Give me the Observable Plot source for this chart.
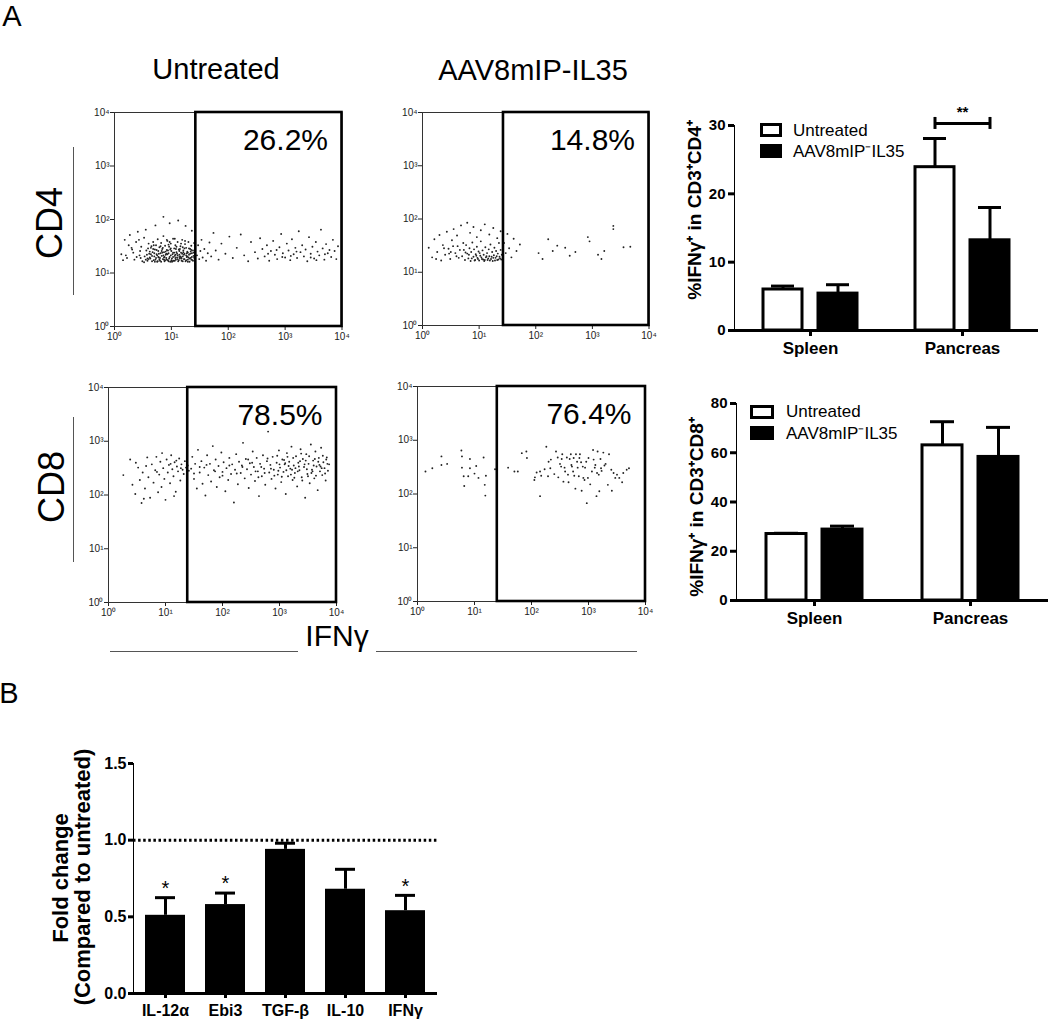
<!DOCTYPE html>
<html><head><meta charset="utf-8">
<script src="https://cdn.jsdelivr.net/npm/d3@7"></script>
<script src="https://cdn.jsdelivr.net/npm/@observablehq/plot@0.6"></script>
<style>
body{margin:0;background:#fff;font-family:"Liberation Sans",Arial,sans-serif;}
#root{position:relative;width:1050px;height:1024px;overflow:hidden;background:#fff;}
.thick g[aria-label*="axis"]{stroke-width:3px;}
.thick .tick line,.thick .domain{stroke-width:3px;}
.grouped g[aria-label^="fx-axis"] text{font-size:17px;}
.grouped g[aria-label^="y-axis"] text{font-size:15px;}
</style></head>
<body><div id="root"></div>
<script>
// ---------------- DATA ----------------
const decadeTicks = [0, 1, 2, 3, 4];
const decadeLabels = ["10⁰", "10¹", "10²", "10³", "10⁴"];
const columnTitles = ["Untreated", "AAV8mIP-IL35"];
const rowLabels = ["CD4", "CD8"];
const xMarker = "IFNγ";
const gatePercents = ["26.2%", "14.8%", "78.5%", "76.4%"];
const gateThresholds = [1.43, 1.43, 1.39, 1.40];

// events as "log10(IFNγ) log10(CD)" pairs
const cd4UntreatedEvents = `0.12 1.35,0.18 1.62,0.22 1.28,0.27 1.71,0.31 1.44,0.35 1.25,0.38 1.58,0.41 1.77,0.44 1.33,0.47 1.49,0.49 1.22,0.52 1.66,0.15 1.24,0.25 1.52,0.33 1.38,0.43 1.62,0.55 1.81,0.58 1.27,0.86 2.05,0.97 1.93,1.12 1.98,1.25 1.88,0.72 1.89,1.36 1.79,
0.53 1.31,0.56 1.42,0.58 1.23,0.6 1.55,0.61 1.36,0.63 1.27,0.64 1.47,0.66 1.22,0.67 1.39,0.68 1.58,0.7 1.31,0.71 1.44,0.72 1.25,0.73 1.52,0.74 1.35,0.75 1.21,0.76 1.63,0.77 1.41,0.78 1.29,0.79 1.48,0.8 1.23,0.81 1.37,0.82 1.56,0.83 1.32,0.84 1.45,0.85 1.26,0.86 1.69,0.87 1.39,0.88 1.22,0.89 1.51,0.9 1.34,0.91 1.28,0.92 1.43,0.93 1.6,0.94 1.24,0.95 1.37,0.96 1.49,0.97 1.3,0.98 1.21,0.99 1.55,1.0 1.41,1.01 1.27,1.02 1.35,1.03 1.64,1.04 1.23,1.05 1.46,1.06 1.32,1.07 1.52,1.08 1.25,1.09 1.39,1.1 1.29,1.11 1.58,1.12 1.22,1.13 1.44,1.14 1.34,1.15 1.27,1.16 1.5,1.17 1.38,1.18 1.23,1.19 1.62,1.2 1.31,1.21 1.42,1.22 1.26,1.23 1.36,1.24 1.54,1.25 1.22,1.26 1.47,1.27 1.3,1.28 1.4,1.29 1.25,1.3 1.58,1.31 1.34,1.32 1.21,1.33 1.45,1.34 1.28,1.35 1.51,1.36 1.37,1.37 1.24,1.38 1.42,1.39 1.32,1.4 1.56,1.41 1.27,
0.57 1.34,0.62 1.29,0.65 1.5,0.69 1.24,0.74 1.43,0.78 1.36,0.82 1.21,0.85 1.47,0.88 1.3,0.92 1.25,0.95 1.53,0.99 1.33,1.02 1.22,1.05 1.38,1.08 1.45,1.11 1.26,1.14 1.41,1.17 1.29,1.2 1.22,1.23 1.46,1.26 1.33,1.29 1.38,1.32 1.27,1.35 1.43,1.38 1.23,0.6 1.26,0.7 1.37,0.8 1.28,0.9 1.4,1.0 1.24,1.1 1.36,1.2 1.48,1.3 1.29,0.66 1.32,0.76 1.22,0.86 1.33,0.96 1.27,1.06 1.23,1.16 1.31,1.26 1.24,1.36 1.3,0.68 1.45,0.84 1.38,0.93 1.35,1.03 1.3,1.13 1.24,1.22 1.34,1.33 1.36,0.73 1.28,0.87 1.25,0.98 1.44,1.07 1.34,1.18 1.27,1.28 1.31,0.55 1.25,0.45 1.41,0.39 1.3,0.3 1.47,0.2 1.33,
0.62 1.4,0.71 1.21,0.75 1.33,0.79 1.25,0.83 1.41,0.87 1.29,0.91 1.36,0.95 1.22,0.99 1.46,1.03 1.38,1.07 1.28,1.11 1.33,1.15 1.45,1.19 1.36,1.23 1.26,1.27 1.37,1.31 1.46,1.35 1.25,1.39 1.38,0.64 1.35,0.69 1.52,0.77 1.3,0.81 1.5,0.89 1.24,0.94 1.42,1.01 1.21,1.09 1.49,1.14 1.3,1.21 1.39,1.29 1.21,1.34 1.4,1.4 1.29,0.59 1.46,0.97 1.58,1.17 1.55,1.06 1.64,0.92 1.62,1.24 1.6,0.52 1.2,0.46 1.28,
1.45 1.33,1.47 1.52,1.49 1.26,1.51 1.41,1.53 1.62,1.55 1.29,1.58 1.45,1.61 1.23,1.64 1.37,1.67 1.57,1.7 1.31,1.74 1.75,1.78 1.42,1.83 1.25,1.88 1.55,1.95 1.36,2.02 1.68,2.08 1.28,2.15 1.47,2.22 1.72,2.28 1.33,2.35 1.22,2.4 1.58,2.47 1.39,2.52 1.27,2.56 1.65,2.6 1.45,2.64 1.31,2.68 1.52,2.72 1.23,2.75 1.41,2.79 1.6,2.82 1.34,2.86 1.26,2.9 1.48,2.93 1.73,2.96 1.37,3.0 1.29,3.03 1.55,3.06 1.42,3.09 1.24,3.12 1.63,3.15 1.35,3.18 1.47,3.21 1.28,3.24 1.78,3.27 1.39,3.3 1.52,3.33 1.31,3.36 1.44,3.39 1.22,3.42 1.67,3.45 1.36,3.48 1.49,3.51 1.27,3.54 1.58,3.57 1.4,3.6 1.33,3.63 1.81,3.66 1.46,3.69 1.25,3.72 1.54,3.75 1.37,3.78 1.43,3.81 1.3,3.84 1.62,3.87 1.41,3.9 1.26,3.93 1.5,2.7 1.36,2.95 1.3,3.2 1.4,3.45 1.29,3.7 1.35,3.1 1.32,3.55 1.24,2.85 1.43`;

const cd4TreatedEvents = `0.11 1.46,0.17 1.28,0.21 1.62,0.26 1.38,0.3 1.7,0.33 1.22,0.36 1.51,0.4 1.33,0.43 1.76,0.46 1.44,0.49 1.25,0.52 1.6,0.55 1.81,0.58 1.36,0.61 1.69,0.64 1.27,0.68 1.88,0.72 1.55,0.79 1.93,0.84 1.74,0.9 1.85,0.96 1.66,1.03 1.79,1.1 1.9,1.18 1.71,1.25 1.83,1.32 1.64,1.38 1.77,0.24 1.25,0.38 1.45,0.5 1.38,0.62 1.49,
0.7 1.3,0.73 1.42,0.75 1.23,0.77 1.51,0.79 1.35,0.81 1.26,0.83 1.45,0.85 1.21,0.86 1.38,0.88 1.56,0.9 1.29,0.91 1.43,0.93 1.23,0.94 1.34,0.96 1.48,0.97 1.27,0.99 1.39,1.0 1.22,1.02 1.31,1.03 1.58,1.05 1.25,1.06 1.41,1.08 1.33,1.09 1.21,1.11 1.47,1.12 1.28,1.14 1.36,1.15 1.23,1.17 1.43,1.18 1.3,1.2 1.52,1.21 1.25,1.23 1.38,1.24 1.21,1.26 1.32,1.27 1.46,1.29 1.27,1.3 1.4,1.32 1.23,1.33 1.35,1.35 1.55,1.36 1.29,1.38 1.42,1.39 1.24,1.4 1.33,0.87 1.26,0.95 1.31,1.01 1.36,1.07 1.24,1.13 1.3,1.19 1.22,1.25 1.27,1.31 1.3,1.37 1.26,0.92 1.22,0.98 1.25,1.04 1.28,1.1 1.23,1.16 1.26,1.22 1.29,1.28 1.22,1.34 1.24,0.82 1.33,0.76 1.37,0.66 1.42,0.6 1.3,0.54 1.49,0.47 1.35,
1.44 1.55,1.47 1.36,1.5 1.72,1.53 1.45,1.57 1.28,1.61 1.63,1.66 1.4,1.72 1.52,2.05 1.36,2.12 1.25,2.22 1.62,2.3 1.4,2.38 1.5,2.52 1.46,2.6 1.31,2.7 1.38,2.92 1.66,2.95 1.58,3.1 1.33,3.16 1.25,3.21 1.4,3.37 1.87,3.37 1.81,3.55 1.47,3.67 1.48`;

const cd8UntreatedEvents = `0.26 2.37,0.38 2.66,0.42 2.19,0.47 2.02,0.52 2.51,0.55 2.28,0.58 1.85,0.6 2.42,0.64 2.12,0.68 2.7,0.7 2.33,0.73 1.95,0.76 2.57,0.79 2.23,0.82 2.46,0.84 2.71,0.87 2.05,0.89 2.38,0.91 2.62,0.93 2.15,0.96 2.5,0.98 2.3,1.0 1.91,1.02 2.66,1.04 2.42,1.06 2.56,1.08 2.22,1.1 2.74,1.12 2.48,1.14 2.35,1.16 2.61,1.18 2.06,1.2 2.53,1.22 2.44,1.24 2.68,1.26 2.27,1.28 2.57,1.3 2.47,1.32 2.39,1.34 2.63,1.36 2.51,1.38 2.98,1.39 2.55,1.41 2.45,0.48 2.6,0.66 2.54,0.94 2.78,1.09 2.58,1.19 2.64,1.27 2.5,0.85 2.43,0.62 1.93,1.15 1.98,
1.45 2.49,1.47 2.71,1.5 2.3,1.52 2.58,1.55 2.12,1.57 2.84,1.6 2.42,1.63 2.63,1.65 2.21,1.68 2.51,1.7 1.99,1.73 2.74,1.75 2.37,1.78 2.58,1.8 2.25,1.83 2.91,1.85 2.46,1.88 2.66,1.9 2.15,1.93 2.54,1.95 2.33,1.98 2.79,2.0 2.43,2.02 2.61,2.05 2.07,2.07 2.5,2.1 2.28,2.12 2.69,2.15 2.39,2.17 2.57,2.2 1.86,2.22 2.47,2.24 2.76,2.27 2.2,2.29 2.62,2.32 2.41,2.34 2.55,2.36 2.97,2.39 2.31,2.41 2.67,2.43 2.48,2.46 2.13,2.48 2.59,2.5 2.38,2.53 2.81,2.55 2.52,2.57 2.26,2.6 2.69,2.62 2.44,2.64 1.98,2.66 2.58,2.69 2.35,2.71 2.74,2.73 2.49,2.75 2.19,2.78 2.63,2.8 3.18,2.82 2.42,2.84 2.56,2.86 2.3,2.88 2.71,2.9 2.47,2.93 2.12,2.95 2.6,2.97 2.38,2.99 2.83,3.01 2.51,3.03 2.24,3.05 2.66,3.07 2.43,3.09 2.57,3.11 2.02,3.13 2.78,3.15 2.35,3.17 2.62,3.19 2.49,3.21 2.9,3.23 2.28,3.25 2.55,3.27 2.41,3.29 2.72,3.31 2.16,3.33 2.6,3.35 2.46,3.37 2.85,3.39 2.33,3.41 2.67,3.43 2.52,3.45 1.95,3.47 2.76,3.49 2.39,3.51 2.58,3.53 2.22,3.55 2.94,3.57 2.47,3.59 2.64,3.61 2.31,3.63 2.81,3.65 2.53,3.67 2.09,3.69 2.69,3.71 2.44,3.73 2.88,3.75 2.37,3.77 2.61,3.79 2.5,3.81 2.27,3.83 2.7,3.85 2.45,3.87 2.57,
2.68 2.52,2.74 2.41,2.79 2.68,2.85 2.49,2.91 2.36,2.96 2.73,3.0 2.57,3.04 2.34,3.08 2.65,3.12 2.46,3.16 2.54,3.2 2.38,3.24 2.69,3.28 2.5,3.32 2.44,3.36 2.63,3.4 2.27,3.44 2.57,3.48 2.48,3.52 2.72,3.56 2.41,3.6 2.55,3.64 2.36,3.68 2.62,3.72 2.53,3.76 2.73,3.8 2.4,3.84 2.58,3.14 2.71,3.26 2.32,3.38 2.77,3.5 2.35,3.62 2.67,3.74 2.5,2.98 2.45,3.1 2.59,3.22 2.47,3.34 2.53,3.46 2.64,3.58 2.44,3.7 2.56,3.82 2.66,2.45 2.66,2.58 2.44,2.35 2.52,2.25 2.4,2.12 2.55,2.0 2.36,1.87 2.44,1.72 2.56,1.6 2.52,1.5 2.4,2.52 2.6,2.63 2.33`;

const cd8TreatedEvents = `0.14 2.42,0.26 2.48,0.42 2.7,0.42 2.54,0.52 2.56,0.77 2.81,0.78 2.7,0.78 2.49,0.81 2.33,0.89 2.33,0.92 2.65,0.92 2.48,1.0 2.38,1.03 2.52,1.07 2.3,1.16 2.68,1.18 2.17,1.2 2.34,1.19 1.97,0.82 2.15,1.36 2.46,
1.59 2.49,1.7 2.42,1.76 2.42,1.83 2.76,1.91 2.79,1.92 2.67,2.05 2.26,2.06 2.31,2.09 2.4,2.15 2.42,2.15 1.96,2.17 2.34,2.23 2.46,2.26 2.88,2.29 2.33,2.3 2.6,2.33 2.48,2.34 2.64,2.4 2.37,2.43 2.79,2.46 2.68,2.47 2.31,2.5 2.56,2.52 2.51,2.53 2.65,2.54 2.74,2.56 2.23,2.58 2.49,2.59 2.42,2.62 2.68,2.64 2.36,2.65 2.22,2.67 2.65,2.69 2.74,2.7 2.54,2.71 2.51,2.73 2.42,2.74 2.67,2.75 2.34,2.77 2.1,2.78 2.74,2.8 2.6,2.81 2.49,2.83 2.33,2.84 2.67,2.85 2.74,2.87 2.59,2.88 2.06,2.9 2.51,2.91 2.3,2.93 2.26,2.94 2.49,2.96 2.6,2.97 1.83,2.99 2.3,3.0 2.67,3.03 2.18,3.06 2.42,3.08 2.82,3.09 2.64,3.11 2.49,3.12 2.54,3.14 1.96,3.15 2.39,3.16 2.79,3.18 2.36,3.19 2.05,3.21 2.65,3.22 2.48,3.23 2.43,3.26 2.77,3.28 2.53,3.3 2.56,3.34 2.17,3.36 2.74,3.4 2.45,3.41 2.06,3.44 2.39,3.47 2.3,3.5 2.36,3.54 2.3,3.59 2.22,3.61 2.39,3.67 2.45,3.71 2.48`;

// right-hand bar charts (order: Spleen-Untreated, Spleen-AAV, Pancreas-Untreated, Pancreas-AAV)
const tissues = ["Spleen", "Pancreas"];
const treatments = ["Untreated", "AAV8mIP⁻IL35"];
const cd4Mean = [6.0, 5.4, 23.9, 13.2];
const cd4Sem = [0.5, 1.3, 4.2, 4.8];
const cd4Ticks = [0, 10, 20, 30];
const cd4Bracket = [{tissue: "Pancreas", from: "Untreated", to: "AAV8mIP⁻IL35", level: 30.3, label: "**"}];
const cd8Mean = [27.0, 28.8, 63.0, 58.3];
const cd8Sem = [0.3, 1.4, 9.6, 12.0];
const cd8Ticks = [0, 20, 40, 60, 80];
const cd4AxisLabel = "%IFNγ⁺ in CD3⁺CD4⁺";
const cd8AxisLabel = "%IFNγ⁺ in CD3⁺CD8⁺";

// panel B
const genes = ["IL-12α", "Ebi3", "TGF-β", "IL-10", "IFNγ"];
const foldChange = [0.51, 0.58, 0.94, 0.68, 0.54];
const foldSem = [0.115, 0.075, 0.04, 0.13, 0.10];
const foldSignificance = ["*", "*", "", "", "*"];
const foldTicks = [0, 0.5, 1.0, 1.5];
const foldReference = [1.0];
const foldAxisLabel = ["Fold change", "(Compared to untreated)"];

// ---------------- HELPERS ----------------
const root = document.getElementById("root");
const FONT = "'Liberation Sans', Arial, Helvetica, sans-serif";
const parseEvents = s => s.trim().split(/\s*,\s*/).map(p => { const [x, y] = p.trim().split(/\s+/).map(Number); return {x, y}; });

function place(node, left, top) {
  const d = document.createElement("div");
  d.style.position = "absolute"; d.style.left = left + "px"; d.style.top = top + "px";
  d.appendChild(node); root.appendChild(d); return d;
}
function addText(txt, cx, cy, o = {}) {
  const d = document.createElement("div");
  d.textContent = txt;
  Object.assign(d.style, {position: "absolute", left: cx + "px", top: cy + "px",
    transform: "translate(-50%,-50%)" + (o.rotate ? " rotate(-90deg)" : ""),
    fontSize: (o.size || 16) + "px", fontWeight: o.weight || "normal", whiteSpace: "nowrap",
    lineHeight: "1.15", fontFamily: FONT, color: o.color || "#000"});
  if (o.left) { d.style.transform = "translate(0,-50%)"; }
  root.appendChild(d); return d;
}
function addLine(x1, y1, x2, y2, color = "#555", w = 1) {
  const d = document.createElement("div");
  Object.assign(d.style, {position: "absolute", left: Math.min(x1, x2) + "px", top: Math.min(y1, y2) + "px",
    width: Math.max(w, Math.abs(x2 - x1)) + "px", height: Math.max(w, Math.abs(y2 - y1)) + "px", background: color});
  root.appendChild(d);
}
function addSwatch(left, top, w, h, filled) {
  const d = document.createElement("div");
  Object.assign(d.style, {position: "absolute", left: left + "px", top: top + "px", width: w + "px", height: h + "px",
    boxSizing: "border-box", border: "3px solid #000", background: filled ? "#000" : "#fff"});
  root.appendChild(d);
}

// ---------------- FLOW DOT PLOTS ----------------
function flowPanel(events, gate, pct, L, R, T, B) {
  const mL = 36, mR = 10, mT = 8, mB = 24;
  const svg = Plot.plot({
    width: R - L + mL + mR, height: B - T + mT + mB,
    marginLeft: mL, marginRight: mR, marginTop: mT, marginBottom: mB,
    style: {fontFamily: FONT, fontSize: "10px", color: "#222", background: "transparent", overflow: "visible"},
    x: {domain: [0, 4], ticks: decadeTicks, tickFormat: d => decadeLabels[d], tickSize: 4, tickPadding: 2, label: null},
    y: {domain: [0, 4], ticks: decadeTicks, tickFormat: d => decadeLabels[d], tickSize: 4, tickPadding: 1, label: null},
    marks: [
      Plot.dot(parseEvents(events), {x: "x", y: "y", r: 0.95, fill: "#222", stroke: "none"}),
      Plot.frame({stroke: "#333", strokeWidth: 1}),
      Plot.rect([{x1: gate, x2: 4, y1: 0, y2: 4}], {x1: "x1", x2: "x2", y1: "y1", y2: "y2", fill: "none", stroke: "#000", strokeWidth: 2.6}),
      Plot.text([pct], {text: d => d, frameAnchor: "top-right", textAnchor: "end", lineAnchor: "top", dx: -14, dy: 16, fontSize: 30, fill: "#000"})
    ]
  });
  place(svg, L - mL, T - mT);
}
const flowLayout = [
  [cd4UntreatedEvents, 113.5, 341, 112, 326],
  [cd4TreatedEvents, 421.5, 648, 112, 325],
  [cd8UntreatedEvents, 108, 336, 387, 602],
  [cd8TreatedEvents, 417, 645, 386, 601]
];
flowLayout.forEach(([ev, L, R, T, B], i) => flowPanel(ev, gateThresholds[i], gatePercents[i], L, R, T, B));

addText("A", 12, 17, {size: 29});
addText(columnTitles[0], 216, 70, {size: 29});
addText(columnTitles[1], 533, 71, {size: 29});
addText(rowLabels[0], 50, 223, {size: 36, rotate: true});
addText(rowLabels[1], 52, 487, {size: 36, rotate: true});
addLine(73, 147, 73, 295);
addLine(73, 417, 73, 562);
addText(xMarker, 337, 636, {size: 30});
addLine(110, 651, 298, 651);
addLine(376, 651, 637, 651);

// ---------------- GROUPED BAR CHARTS ----------------
function groupedBars(means, sems, ticks, bracket, L, R, T, B) {
  const rows = tissues.flatMap((t, i) => treatments.map((tr, j) => ({tissue: t, treatment: tr, mean: means[i * 2 + j], upper: means[i * 2 + j] + sems[i * 2 + j]})));
  const mL = 50, mR = Math.min(10, 1050 - R), mT = 30, mB = 45;
  const marks = [
    Plot.ruleX(rows, {fx: "tissue", x: "treatment", y1: "mean", y2: "upper", strokeWidth: 3}),
    Plot.tickY(rows, {fx: "tissue", x: "treatment", y: "upper", strokeWidth: 3, inset: 8}),
    Plot.barY(rows, {fx: "tissue", x: "treatment", y: "mean", fill: "treatment", stroke: "#000", strokeWidth: 3}),
    Plot.ruleY([0], {strokeWidth: 3})
  ];
  if (bracket) {
    marks.push(
      Plot.link(bracket, {fx: "tissue", x1: "from", x2: "to", y1: "level", y2: "level", strokeWidth: 3}),
      Plot.ruleX(bracket, {fx: "tissue", x: "from", y1: "level", y2: "level", insetTop: -6, insetBottom: -6, strokeWidth: 3}),
      Plot.ruleX(bracket, {fx: "tissue", x: "to", y1: "level", y2: "level", insetTop: -6, insetBottom: -6, strokeWidth: 3}),
      Plot.text(bracket, {fx: "tissue", y: "level", text: "label", dy: -11, fontSize: 15})
    );
  }
  const svg = Plot.plot({
    width: R - L + mL + mR, height: B - T + mT + mB,
    marginLeft: mL, marginRight: mR, marginTop: mT, marginBottom: mB,
    style: {fontFamily: FONT, fontSize: "15px", fontWeight: "bold", color: "#000", background: "transparent", overflow: "visible"},
    fx: {domain: tissues, padding: 0, axis: "bottom", label: null, tickSize: 6, tickPadding: 5},
    x: {domain: treatments, paddingInner: 0.29, paddingOuter: 0.52, axis: null},
    y: {domain: [0, ticks[ticks.length - 1]], ticks, tickSize: 6, tickPadding: 3, label: null, line: true},
    color: {domain: treatments, range: ["#fff", "#000"]},
    marks
  });
  svg.classList.add("thick", "grouped");
  place(svg, L - mL, T - mT);
}
groupedBars(cd4Mean, cd4Sem, cd4Ticks, cd4Bracket, 733, 1038, 125, 330);
groupedBars(cd8Mean, cd8Sem, cd8Ticks, null, 735, 1048, 403, 600);

addText(cd4AxisLabel, 695, 210, {size: 19, weight: "bold", rotate: true});
addText(cd8AxisLabel, 697, 507, {size: 19, weight: "bold", rotate: true});
addSwatch(760, 123, 22, 14, false);
addSwatch(760, 144, 22, 14, true);
addText(treatments[0], 793, 131, {size: 17, left: true});
addText(treatments[1], 793, 152, {size: 17, left: true});
addSwatch(750, 405, 24, 14, false);
addSwatch(750, 426, 24, 14, true);
addText(treatments[0], 786, 412, {size: 17, left: true});
addText(treatments[1], 786, 434, {size: 17, left: true});

// ---------------- PANEL B ----------------
(function () {
  const rows = genes.map((g, i) => ({gene: g, mean: foldChange[i], upper: foldChange[i] + foldSem[i], sig: foldSignificance[i]}));
  const L = 133, R = 437, T = 762.7, B = 992.7;
  const mL = 50, mR = 10, mT = 20, mB = 30;
  const svg = Plot.plot({
    width: R - L + mL + mR, height: B - T + mT + mB,
    marginLeft: mL, marginRight: mR, marginTop: mT, marginBottom: mB,
    style: {fontFamily: FONT, fontSize: "16px", fontWeight: "bold", color: "#000", background: "transparent", overflow: "visible"},
    x: {domain: genes, paddingInner: 0.34, paddingOuter: 0.174, tickSize: 5, tickPadding: 6, label: null},
    y: {domain: [0, 1.5], ticks: foldTicks, tickFormat: d3.format(".1f"), tickSize: 5, tickPadding: 2, label: null, line: true},
    marks: [
      Plot.ruleY(foldReference, {strokeWidth: 3, strokeDasharray: "2.5,2.6"}),
      Plot.ruleX(rows, {x: "gene", y1: "mean", y2: "upper", strokeWidth: 3}),
      Plot.tickY(rows, {x: "gene", y: "upper", strokeWidth: 3, inset: 10}),
      Plot.barY(rows, {x: "gene", y: "mean", fill: "#000"}),
      Plot.ruleY([0], {strokeWidth: 3}),
      Plot.text(rows.filter(d => d.sig), {x: "gene", y: "upper", text: "sig", dy: -9, fontSize: 20, fontWeight: "normal"})
    ]
  });
  svg.classList.add("thick");
  place(svg, L - mL, T - mT);
})();
addText("B", 9, 694, {size: 29});
addText(foldAxisLabel[0], 61, 878, {size: 22, weight: "bold", rotate: true});
addText(foldAxisLabel[1], 83, 877, {size: 22, weight: "bold", rotate: true});
</script></body></html>
